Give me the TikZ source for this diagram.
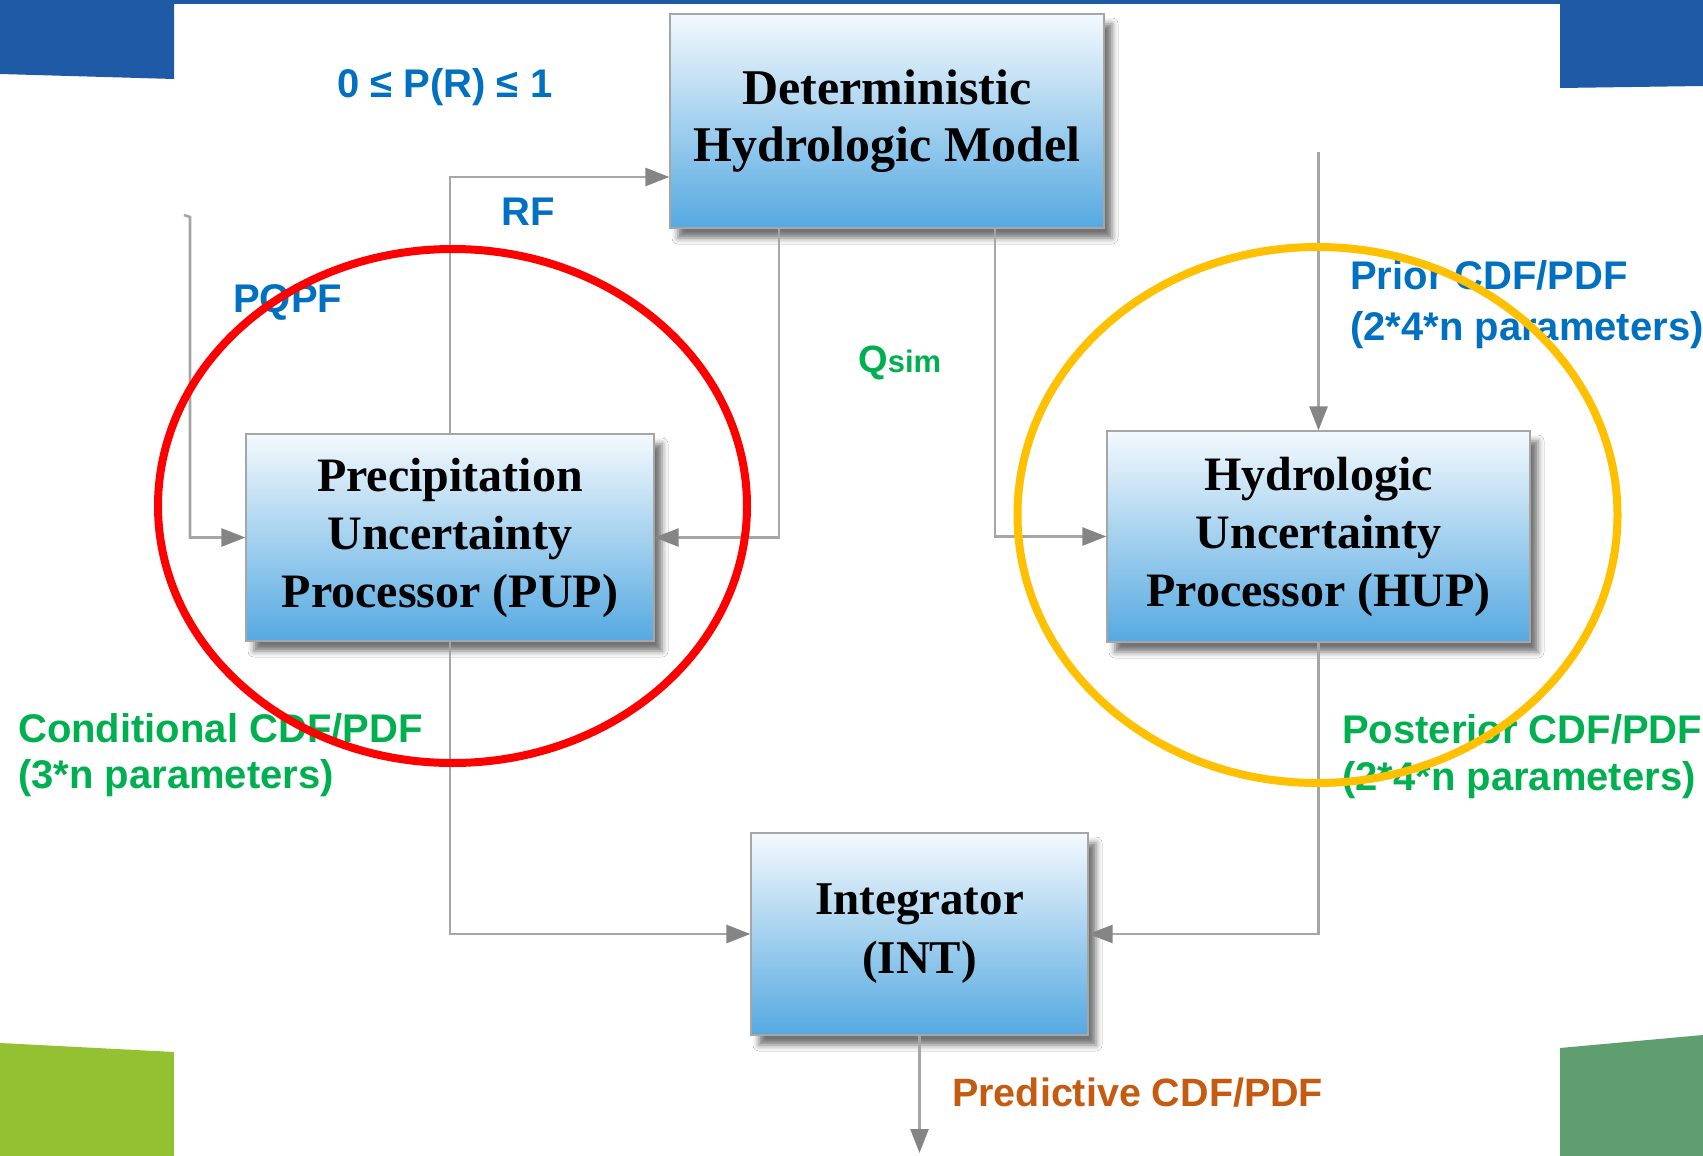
\documentclass[tikz,border=0pt]{standalone}
\usepackage{fontspec}
\setmainfont{Liberation Serif}
\newfontfamily\labfont{Liberation Sans}
\usetikzlibrary{arrows.meta,shadows.blur,calc}
\definecolor{bannerblue}{HTML}{1F5AA7}
\definecolor{leafgreen}{HTML}{93C131}
\definecolor{seagreenx}{HTML}{5E9E6F}
\definecolor{boxtop}{HTML}{F4F9FD}
\definecolor{boxbot}{HTML}{55A9E1}
\definecolor{linegray}{HTML}{A6A6A6}
\definecolor{arrowgray}{HTML}{858585}
\definecolor{labblue}{HTML}{0070C0}
\definecolor{labgreen}{HTML}{00B050}
\definecolor{laborange}{HTML}{C55A11}
\definecolor{ringred}{HTML}{FF0000}
\definecolor{ringyellow}{HTML}{FFC000}
\begin{document}
\begin{tikzpicture}[x=1pt,y=-1pt,
  procbox/.style={draw=black!35, line width=1.2pt, top color=boxtop, bottom color=boxbot,
    blur shadow={shadow xshift=8pt, shadow yshift=-10pt, shadow blur radius=6pt, shadow opacity=55},
    align=center, font=\bfseries\fontsize{48}{58}\selectfont, inner sep=0pt},
  conn/.style={draw=linegray, line width=2.6pt, -{Triangle[length=24pt,width=18pt,color=arrowgray]}},
  plainline/.style={draw=linegray, line width=2.6pt},
  lab/.style={font=\labfont\bfseries\fontsize{40}{40}\selectfont, inner sep=0pt, anchor=base west},
  ring/.style={line width=8pt}]
% background and corner patches
\fill[white] (0,0) rectangle (1703,1156);
\useasboundingbox (0,0) rectangle (1703,1156);
\fill[bannerblue] (0,0) rectangle (1703,4);
\fill[bannerblue] (0,0) -- (174,0) -- (174,79) -- (0,74) -- cycle;
\fill[bannerblue] (1560,0) -- (1703,0) -- (1703,86) -- (1560,88) -- cycle;
\fill[leafgreen] (0,1043) -- (174,1052) -- (174,1156) -- (0,1156) -- cycle;
\fill[seagreenx] (1560,1048) -- (1703,1035) -- (1703,1156) -- (1560,1156) -- cycle;
% process boxes
\node[procbox, minimum width=434pt, minimum height=214pt, font=\bfseries\fontsize{50}{57}\selectfont] (dhm) at (887,121) {Deterministic\\Hydrologic Model};
\node[procbox, minimum width=408pt, minimum height=207pt] (pup) at (450,537.5) {Precipitation\\Uncertainty\\Processor (PUP)};
\node[procbox, minimum width=423pt, minimum height=211pt] (hup) at (1318.5,536.5) {Hydrologic\\Uncertainty\\Processor (HUP)};
\node[procbox, minimum width=337pt, minimum height=202pt, font=\bfseries\fontsize{47}{59}\selectfont] (int) at (919.5,934) {Integrator\\(INT)};
% connector helper points
\coordinate (pqa) at (184,215);
\coordinate (pqb) at (190,217);
\coordinate (rfc) at (450,177);
\coordinate (q1) at (779,0);
\coordinate (q2) at (995,0);
\coordinate (prior) at (1319,152);
\coordinate (out) at (921,1153);
% connectors
\draw[conn] (pqa) -- (pqb) |- (pup.west);
\draw[conn] (pup.north) -- (rfc) -- (rfc -| dhm.west);
\draw[conn] (dhm.south -| q1) |- (pup.east);
\draw[conn] (dhm.south -| q2) |- (hup.west);
\draw[conn] (hup.north |- prior) -- (hup.north);
\draw[conn] (pup.south) |- (int.west);
\draw[conn] (hup.south) |- (int.east);
\draw[conn] (int.south) -- (int.south |- out);
% labels
\node[lab, text=labblue] (prl) at (337,98) {0 ≤ P(R) ≤ 1};
\node[lab, text=labblue] (rfl) at (501,225) {RF};
\node[lab, text=labblue] (pqpfl) at (233,312) {PQPF};
\node[lab, text=labgreen, font=\labfont\bfseries\fontsize{38}{38}\selectfont] (qsl) at (858,372) {Q{\fontsize{31}{31}\selectfont sim}};
\node[lab, text=labblue] (pri1) at (1350,289) {Prior CDF/PDF};
\node[lab, text=labblue] (pri2) at (1350,340) {(2*4*n parameters)};
\node[lab, text=labgreen] (con1) at (18,742) {Conditional CDF/PDF};
\node[lab, text=labgreen] (con2) at (18,788) {(3*n parameters)};
\node[lab, text=labgreen] (pos1) at (1342,743) {Posterior CDF/PDF};
\node[lab, text=labgreen] (pos2) at (1342,790) {(2*4*n parameters)};
\node[lab, text=laborange, font=\labfont\bfseries\fontsize{39.5}{39.5}\selectfont] (pred) at (952,1106) {Predictive CDF/PDF};
% highlight rings
\draw[ring, ringred] (452.5,506) ellipse [x radius=294.5, y radius=257];
\draw[ring, ringyellow] (1317.5,515) ellipse [x radius=300, y radius=268];
\end{tikzpicture}
\end{document}
